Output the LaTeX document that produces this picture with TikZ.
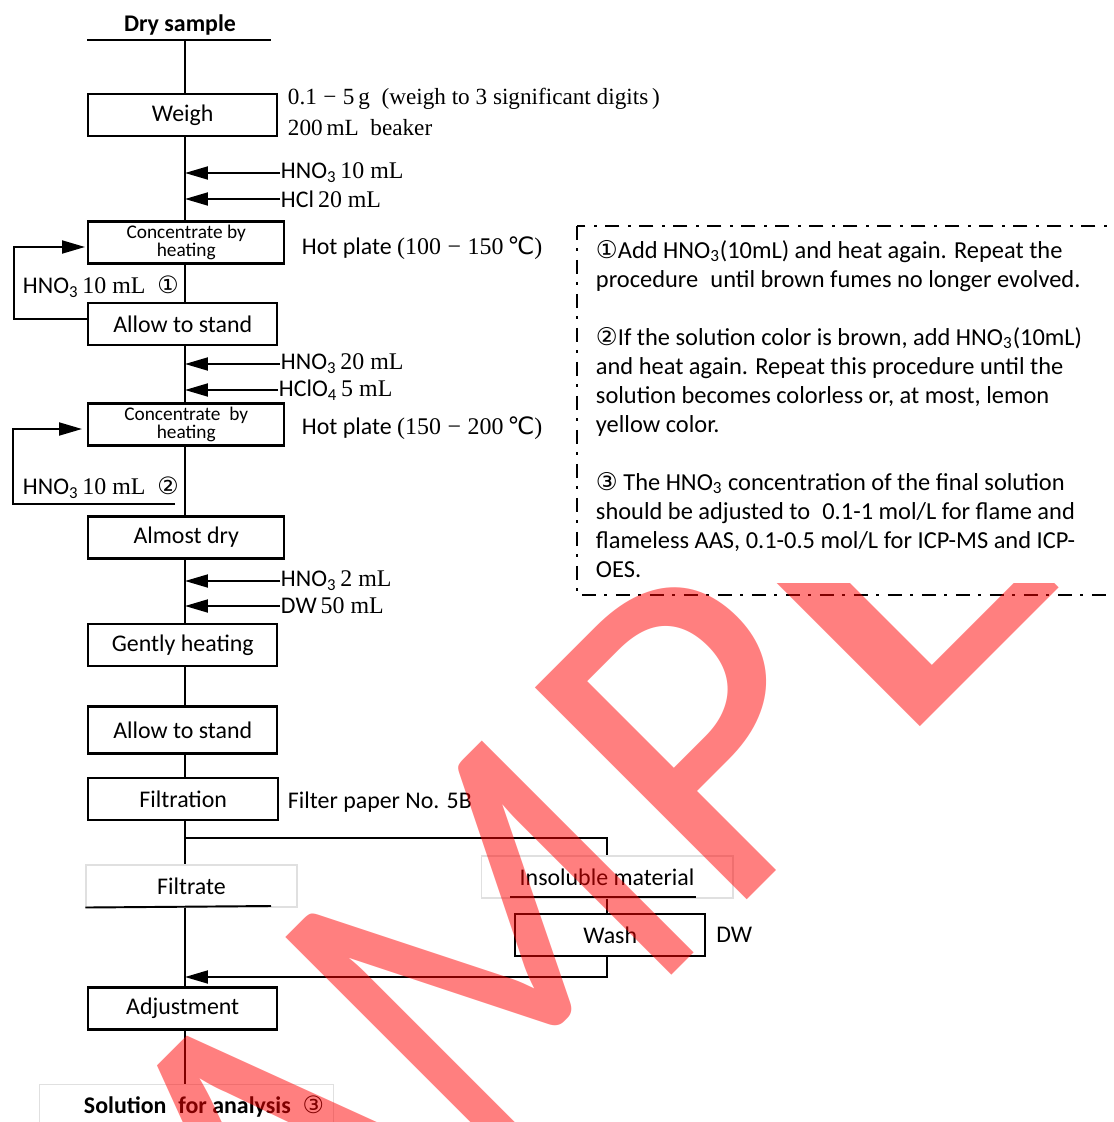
\documentclass[tikz,border=0pt]{standalone}
\usepackage{fontspec}
\usepackage{graphicx}
\setmainfont{Carlito}
\newfontfamily\mincho{Liberation Serif}
\newfontfamily\symb{DejaVu Sans}
\usetikzlibrary{positioning, arrows.meta}
\newcommand{\cn}[1]{{\symb #1}}
\newcommand{\hno}{HNO\textsubscript{3}}

\begin{document}
\begin{tikzpicture}[x=0.02cm, y=-0.02cm, line width=1.1pt,
	every node/.style={inner sep=0pt, font=\fontsize{13.6}{16}\selectfont},
	stepbox/.style={draw, line width=1.4pt, minimum height=0.84cm, anchor=west},
	softbox/.style={draw=black!12, line width=0.6pt},
	small/.style={font=\fontsize{11}{9}\selectfont, align=center},
	side/.style={anchor=west, font=\fontsize{13.2}{16}\selectfont\mincho},
	feed/.style={-{Triangle[length=0.46cm, width=0.26cm]}},
	notebox/.style={line width=0.9pt, dash pattern=on 0.28cm off 0.17cm on 0.06cm off 0.17cm},
	wmark/.style={rotate=45, anchor=base west, text=red, text opacity=0.5, font=\fontsize{265.8}{266}\selectfont}]
	\useasboundingbox (0,0) rectangle (1114,1122);
	% main column
	\node[font=\bfseries\fontsize{13.6}{16}\selectfont] (S0) at (180,25) {Dry sample};
	\coordinate (M) at (185,40);
	\draw (87,40) -- (271,40);
	\node[stepbox, minimum width=3.78cm] (S1) at (87,115) {Weigh};
	\node[stepbox, minimum width=3.92cm, small] (S2) at (87,242.5) {Concentrate by\\heating};
	\node[stepbox, minimum width=3.78cm] (S3) at (87,324) {Allow to stand};
	\node[stepbox, minimum width=3.92cm, small] (S4) at (87,424.5) {Concentrate~~by\\heating};
	\node[stepbox, minimum width=3.92cm] (S5) at (87,537.5) {Almost dry};
	\node[stepbox, minimum width=3.78cm] (S6) at (87,645) {Gently heating};
	\node[stepbox, minimum width=3.78cm, minimum height=0.94cm] (S7) at (87,730) {Allow to stand};
	\node[stepbox, minimum width=3.8cm] (S8) at (87,799) {Filtration};
	\node[softbox, minimum width=4.22cm, minimum height=0.84cm] (S9) at (191.5,886) {Filtrate};
	\draw (S9.south west) -- (271,906);
	\node[stepbox, minimum width=3.78cm] (S10) at (87,1008.5) {Adjustment};
	\node[softbox, anchor=north west, minimum width=5.88cm, minimum height=1cm] (S11) at (39,1084) {};
	\node[anchor=west] (T11) at (83,1107) {\textbf{Solution\enspace for analysis}\enspace\cn{③}};
	\draw (M) -- (S1.north -| M);
	\foreach \a/\b in {S1/S2, S2/S3, S3/S4, S4/S5, S5/S6, S6/S7, S7/S8, S8/S9, S9/S10, S10/S11}
		\draw (\a.south -| M) -- (\b.north -| M);

	% side notes
	\node[side] (T1) at (287,99) {0.1\;−\;5\,g\enspace(weigh to 3 significant digits\,)};
	\node[side] (T2) at (287,128) {200\,mL\enspace beaker};
	\node[anchor=west] (T3) at (301,248) {Hot plate {\mincho (100\;−\;150\,\cn{℃})}};
	\node[anchor=west] (T4) at (301,428) {Hot plate {\mincho (150\;−\;200\,\cn{℃})}};
	\node[anchor=west] (T5) at (287,802) {Filter paper No. 5B};

	% additions
	\node[anchor=west] (A1) at (280,173) {\hno\,{\mincho 10 mL}};
	\node[anchor=west] (A2) at (280,199) {HCl\,{\mincho 20 mL}};
	\node[anchor=west] (A3) at (280,364) {\hno\,{\mincho 20 mL}};
	\node[anchor=west] (A4) at (278,390) {HClO\textsubscript{4}\,{\mincho 5 mL}};
	\node[anchor=west] (A5) at (280,581) {\hno\,{\mincho 2 mL}};
	\node[anchor=west] (A6) at (280,606) {DW\,{\mincho 50 mL}};
	\foreach \a in {A1, A2, A3, A4, A5, A6}
		\draw[feed] (\a.west) -- (\a.west -| M);

	% repeat loops
	\node[anchor=west] (L1) at (22,287) {\hno\,{\mincho 10 mL}\enspace\cn{①}};
	\node[anchor=west] (L2) at (22,488) {\hno\,{\mincho 10 mL}\enspace\cn{②}};
	\draw[feed] (S3.west) ++(0,-5) -- ++(-73,0) |- ([xshift=-0.04cm, yshift=-0.09cm]S2.west);
	\coordinate (R2) at (175,504);
	\draw[feed] (R2) -- ++(-162,0) |- ([xshift=-0.1cm, yshift=-0.09cm]S4.west);

	% insoluble branch
	\node[softbox, minimum width=5.04cm, minimum height=0.84cm] (I0) at (607,877) {Insoluble material};
	\draw (510,897) -- (696,897);
	\node[stepbox, minimum width=3.8cm] (I1) at (514,935) {Wash};
	\node[right=0.18cm of I1] (T6) {DW};
	\coordinate (B) at (185,838);
	\coordinate (R) at (185,977);
	\draw (B) -| (I0.north);
	\draw (I0.south) -- (I0.south |- I1.north);
	\draw[feed] (I1.south -| I0.south) |- (R);

	% notes
	\draw[notebox] (577,226) rectangle (1130,595);
	\node[anchor=base west, align=left, font=\fontsize{13.9}{16.5}\selectfont] (N1) at (595,577)
		{\cn{①}Add \hno(10mL) and heat again. Repeat the\\
		procedure\enspace until brown fumes no longer evolved.\\[16.5pt]
		\cn{②}If the solution color is brown, add \hno(10mL)\\
		and heat again. Repeat this procedure until the\\
		solution becomes colorless or, at most, lemon\\
		yellow color.\\[16.5pt]
		\cn{③} The \hno{} concentration of the final solution\\
		should be adjusted to\enspace 0.1-1 mol/L for flame and\\
		flameless AAS, 0.1-0.5 mol/L for ICP-MS and ICP-\\
		OES.};

	% watermark
	\begin{scope}
		\clip (0,583) rectangle (1114,1122);
		\foreach \c/\s/\k in {S/-972/1, A/-758/1, M/-494/0.86, P/-143/1, L/97/1.25, E/342/1}
			\node[wmark] (W\c) at ({(1647+1.414*\s)/2}, {(1647-1.414*\s)/2}) {\scalebox{\k}[1]{\c}};
	\end{scope}
\end{tikzpicture}
\end{document}
